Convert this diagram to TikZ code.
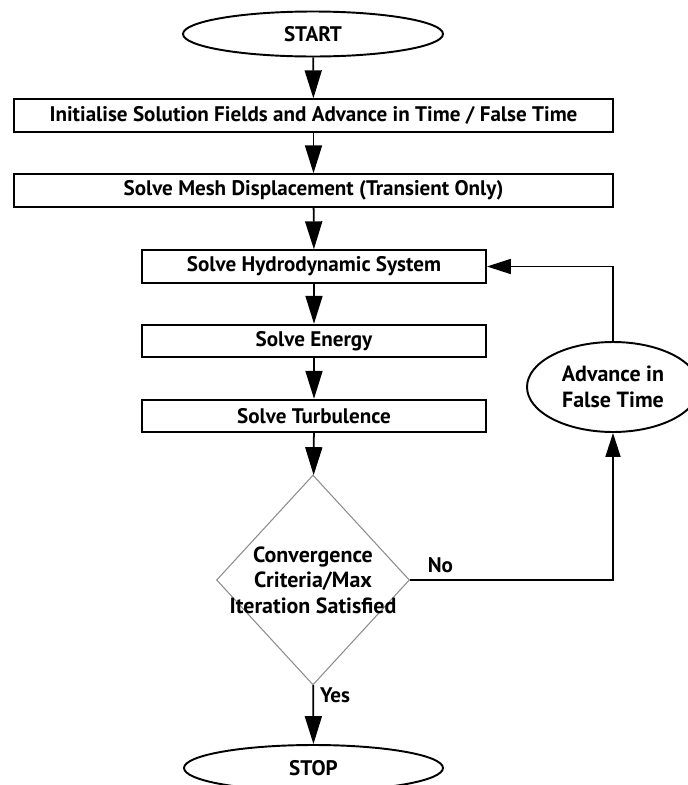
\documentclass[tikz,border=0pt]{standalone}
\usepackage{fontspec}
\setmainfont{PT Sans}
\usetikzlibrary{shapes.geometric,arrows.meta}

\begin{document}
\begin{tikzpicture}[x=0.02cm, y=-0.02cm,
    font=\fontsize{12}{14.5}\selectfont\bfseries,
    terminal/.style={draw, line width=1.1pt, ellipse, inner sep=0pt, minimum width=5.2cm, minimum height=0.9cm},
    stepbox/.style={draw, line width=1.1pt, rectangle, inner sep=0pt, minimum height=0.65cm},
    wide/.style={stepbox, minimum width=11.98cm},
    narrow/.style={stepbox, minimum width=6.88cm},
    decision/.style={draw=black!45, line width=0.6pt, diamond, inner sep=-0.5cm, minimum width=3.86cm, minimum height=4.2cm, align=center, font=\fontsize{12.5}{14.5}\selectfont\bfseries},
    flow/.style={line width=1pt, -{Triangle[length=0.56cm, width=0.34cm]}},
    sideflow/.style={line width=1pt, -{Triangle[length=0.48cm, width=0.3cm]}}]
          \useasboundingbox (0, 0) rectangle (688, 785);
          \node[terminal] (start) at (313, 34) {START};
          \node[wide] (init) at (313.5, 115.5) {Initialise Solution Fields and Advance in Time / False Time};
          \node[wide] (mesh) at (313.5, 190.5) {Solve Mesh Displacement (Transient Only)};
          \node[narrow] (hydro) at (314, 266.5) {Solve Hydrodynamic System};
          \node[narrow] (energy) at (314, 341) {Solve Energy};
          \node[narrow] (turb) at (314, 416) {Solve Turbulence};
          \node[decision] (conv) at (313, 580) {Convergence \\ Criteria/Max \\ Iteration Satisfied};
          \node[terminal, minimum width=3.44cm, minimum height=1.8cm, align=center, font=\fontsize{12.5}{14.5}\selectfont\bfseries] (adv) at (613, 387) {Advance in \\ False Time};
          \node[terminal, minimum width=5.18cm, minimum height=0.92cm] (stop) at (313.5, 768) {STOP};
          %
          \draw[flow] (start) -- (init);
          \draw[flow] (init) -- (mesh);
          \draw[flow] (mesh) -- (hydro);
          \draw[flow] (hydro) -- (energy);
          \draw[flow] (energy) -- (turb);
          \draw[flow] (turb) -- (conv);
          \draw[flow] (conv) -- node[right, pos=0.17] (yes) {Yes} (stop);
          \draw[sideflow] (conv.east) -- node[above, pos=0.15] (no) {No} (conv.east -| adv.south) -- (adv.south);
          \draw[sideflow] (adv.north) |- (hydro.east);
        \end{tikzpicture}
\end{document}
